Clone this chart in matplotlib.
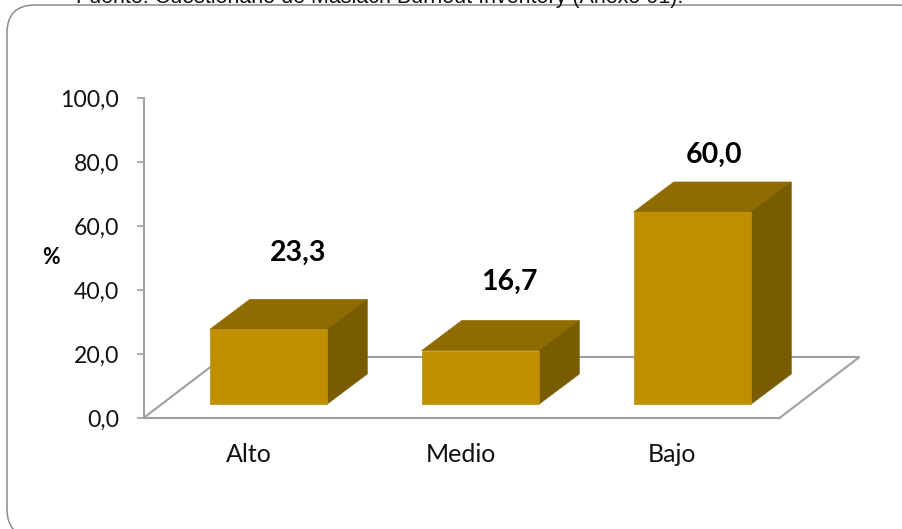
import matplotlib
matplotlib.use("Agg")
import matplotlib.pyplot as plt
from matplotlib.patches import FancyBboxPatch, Polygon

categories = ["Alto", "Medio", "Bajo"]
values = [23.3, 16.7, 60.0]
value_labels = ["23,3", "16,7", "60,0"]
y_ticks = [0, 20, 40, 60, 80, 100]
y_tick_labels = ["0,0", "20,0", "40,0", "60,0", "80,0", "100,0"]

# where each value label floats relative to its bar: percent above, px to the right
label_lift = [28.3, 25.8, 22.2]
label_shift = [30, 29, 22]

W, H = 903, 529
FRONT = "#bf8f00"
TOP = "#906c00"
SIDE = "#7a5c00"
AXIS = "#a0a0a0"
FONT = "Lato"

# depth of the floor and of the bars, in category widths / percent
FLOOR_DX, FLOOR_DY = 80 / 212, 61 / 3.2
INSET_DX, INSET_DY = 19 / 212, 14 / 3.2
BAR_DX, BAR_DY = 40 / 212, 30 / 3.2
BAR_W = 117.5 / 212

fig = plt.figure(figsize=(W / 100, H / 100), dpi=100)

# rounded panel, runs past the right and bottom edges of the canvas
bg = fig.add_axes([0, 0, 1, 1])
bg.set_xlim(0, W)
bg.set_ylim(H, 0)
bg.axis("off")
bg.add_patch(FancyBboxPatch((7, 5), 918, 532, boxstyle="round,pad=0,rounding_size=28",
                            fc="white", ec="#8c8c8c", lw=1.1))
bg.text(76, 3, "Fuente: Cuestionario de Maslach Burnout Inventory (Anexo 01).",
        fontsize=15.5, family="Liberation Sans", color="#111111", va="baseline")

ax = fig.add_axes([143.5 / W, 1 - 418 / H, 636 / W, 320 / H])
ax.set_xlim(0, 3)
ax.set_ylim(0, 100)
ax.patch.set_alpha(0)
for side in ["top", "right", "bottom"]:
    ax.spines[side].set_visible(False)
ax.spines["left"].set_color(AXIS)
ax.spines["left"].set_linewidth(1.5)
ax.set_xticks([])
ax.set_yticks(y_ticks)
ax.set_yticklabels(y_tick_labels, fontsize=16.6, family=FONT, color="#111111")
ax.tick_params(axis="y", color=AXIS, width=1.2, length=5, pad=12.5)
ax.text(-0.435, 50, "%", ha="center", va="center", fontsize=15.5, fontweight="bold", family=FONT)

# floor outline
floor = [(3, 0), (0, 0), (FLOOR_DX, FLOOR_DY), (3 + FLOOR_DX, FLOOR_DY), (3, 0)]
ax.plot(*zip(*floor), color=AXIS, lw=1.5, clip_on=False, zorder=1, solid_joinstyle="miter")

for i, (name, val, lab) in enumerate(zip(categories, values, value_labels)):
    x0 = i + 0.5 + INSET_DX - BAR_W / 2
    x1 = x0 + BAR_W
    y0 = INSET_DY
    y1 = y0 + val
    ax.add_patch(Polygon([(x0, y1), (x1, y1), (x1 + BAR_DX, y1 + BAR_DY), (x0 + BAR_DX, y1 + BAR_DY)],
                         fc=TOP, ec=TOP, lw=0.5, zorder=3, clip_on=False))
    ax.add_patch(Polygon([(x1, y0), (x1 + BAR_DX, y0 + BAR_DY), (x1 + BAR_DX, y1 + BAR_DY), (x1, y1)],
                         fc=SIDE, ec=SIDE, lw=0.5, zorder=3, clip_on=False))
    ax.add_patch(Polygon([(x0, y0), (x1, y0), (x1, y1), (x0, y1)], fc=FRONT, ec=FRONT, lw=0.5, zorder=4))
    ax.text(i + 0.495, -11.5, name, ha="center", va="center", fontsize=18, family=FONT, color="#111111")
    ax.text(x0 + BAR_W / 2 + label_shift[i] / 212, val + label_lift[i], lab, ha="center", va="center",
            fontsize=20.5, fontweight="bold", family=FONT, color="black")

fig.savefig("out.png", dpi=100)
